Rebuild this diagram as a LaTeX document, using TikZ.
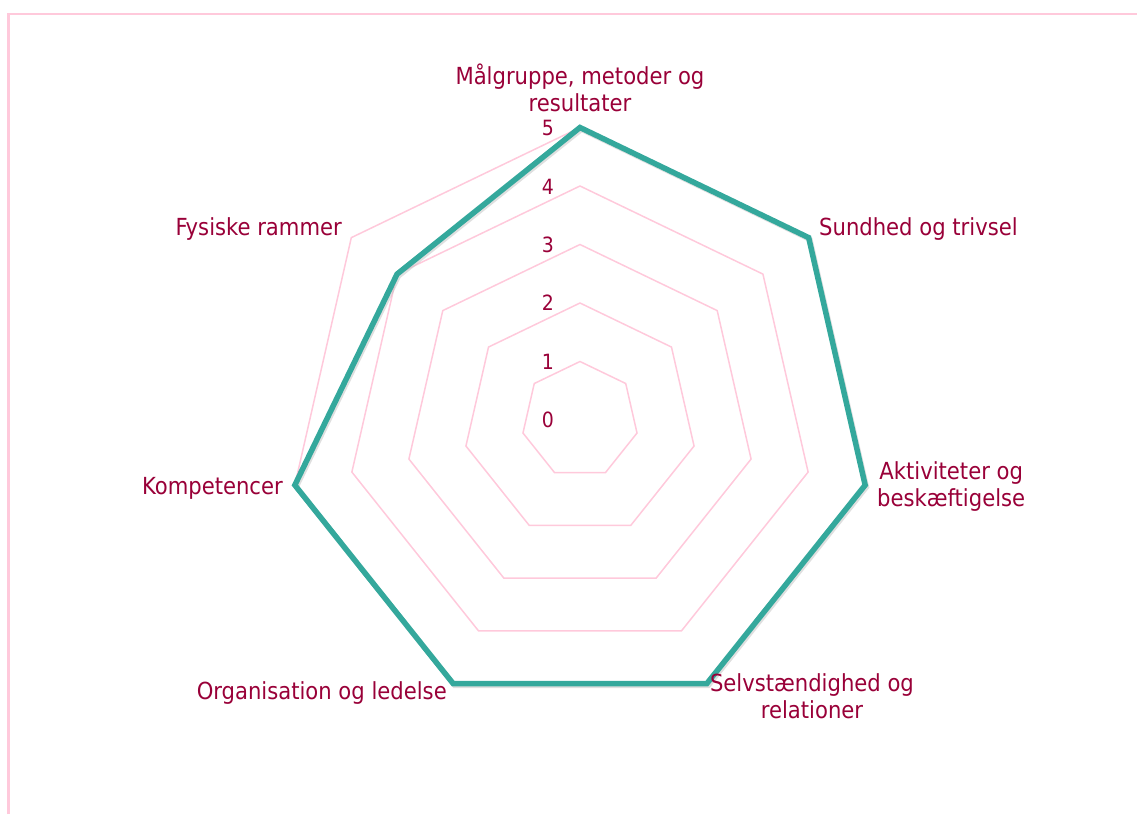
\documentclass[tikz,border=0pt]{standalone}
\usepackage{fontspec}
\setmainfont{DejaVu Sans Condensed}
\definecolor{ring}{HTML}{FFC9DB}
\definecolor{lbl}{HTML}{990038}
\definecolor{teal}{HTML}{34A89C}
\begin{document}
\begin{tikzpicture}[x=1pt,y=1pt,
  ringline/.style={draw=ring,line width=1.5pt},
  dataline/.style={draw=teal,line width=5.5pt,line join=miter},
  axlabel/.style={text=lbl,font=\fontsize{23.5}{27}\selectfont,inner sep=1pt,align=center},
  ticklabel/.style={text=lbl,font=\fontsize{21}{22}\selectfont,inner sep=0pt}]
\useasboundingbox (-580,-394) rectangle (557,420);
% frame
\coordinate (f1) at (-571.5,-394);
\coordinate (f2) at (-571.5,406);
\coordinate (f3) at (557,406);
\draw[ring,line width=2.5pt] (f1) -- (f2) -- (f3);
% rings
\foreach \k in {1,...,5}{
  \draw[ringline] ({90}:{58.5*\k}) \foreach \i in {1,...,6}{ -- ({90-\i*360/7}:{58.5*\k}) } -- cycle;
}
% tick labels
\foreach \k in {0,...,5}{
  \node[ticklabel] (t\k) at (-32,{58.4*\k}) {\k};
}
% data points
\coordinate (d1) at (90:292.5);
\coordinate (d2) at ({90-360/7}:292.5);
\coordinate (d3) at ({90-2*360/7}:292.5);
\coordinate (d4) at ({90-3*360/7}:292.5);
\coordinate (d5) at ({90-4*360/7}:292.5);
\coordinate (d6) at ({90-5*360/7}:292.5);
\coordinate (d7) at ({90-6*360/7}:234);
% shadow
\draw[black!25,line width=5pt,opacity=0.5,transform canvas={xshift=1.5pt,yshift=-2pt}] (d1) -- (d2) -- (d3) -- (d4) -- (d5) -- (d6) -- (d7) -- cycle;
\draw[dataline] (d1) -- (d2) -- (d3) -- (d4) -- (d5) -- (d6) -- (d7) -- cycle;
% axis labels
\node[axlabel,anchor=south] (a1) at (0,307) {Målgruppe, metoder og\\resultater};
\node[axlabel,anchor=west] (a2) at (238,191) {Sundhed og trivsel};
\node[axlabel,anchor=west] (a3) at (296,-67) {Aktiviteter og\\beskæftigelse};
\node[axlabel] (a4) at (232,-276) {Selvstændighed og\\relationer};
\node[axlabel,anchor=east] (a5) at (-132,-273) {Organisation og ledelse};
\node[axlabel,anchor=east] (a6) at (-296,-68) {Kompetencer};
\node[axlabel,anchor=east] (a7) at (-237,191) {Fysiske rammer};
\end{tikzpicture}
\end{document}
